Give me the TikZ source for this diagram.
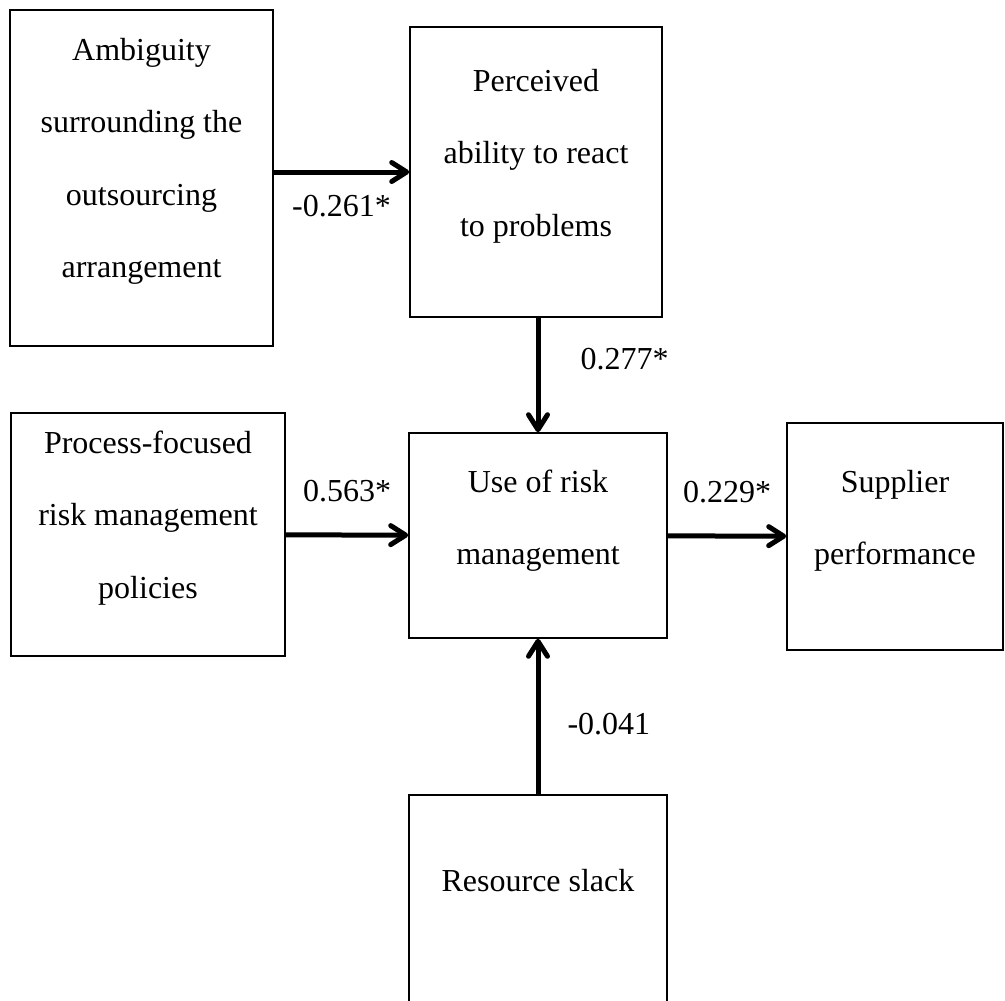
\documentclass[tikz,border=0pt]{standalone}
\usepackage{fontspec}
\setmainfont{Liberation Serif}
\usetikzlibrary{arrows.meta,positioning}

\begin{document}
\begin{tikzpicture}[x=1pt, y=-1pt, font=\fontsize{32}{72.5}\selectfont,
    >={Straight Barb[round,length=15pt,width=19pt]},
    box/.style={draw, line width=1.6pt, inner sep=0pt},
    conn/.style={->, line width=5pt},
    wlab/.style={inner sep=3pt}]
			\useasboundingbox[fill=white] (0,0) rectangle (1005,1001);
			% boxes
			\node[box] (amb) at (141.5,178) {\parbox[c][336pt][t]{263pt}{\centering\rule{0pt}{50pt}Ambiguity\\surrounding the\\outsourcing\\arrangement}};
			\node[box] (per) at (536,172) {\parbox[c][290pt][t]{252pt}{\centering\rule{0pt}{64pt}Perceived\\ability to react\\to problems}};
			\node[box] (proc) at (148,534.5) {\parbox[c][243pt][t]{274pt}{\centering\rule{0pt}{40pt}Process-focused\\risk management\\policies}};
			\node[box] (use) at (538,535.5) {\parbox[c][205pt][t]{258pt}{\centering\rule{0pt}{59pt}Use of risk\\management}};
			\node[box] (sup) at (895,536.5) {\parbox[c][227pt][t]{216pt}{\centering\rule{0pt}{69pt}Supplier\\performance}};
			\node[box] (slack) at (538,940) {\parbox[c][290pt][t]{258pt}{\centering\rule{0pt}{96pt}Resource slack}};
			% paths
			\draw[conn] (amb.east |- per.west) -- node[wlab, below=18pt] {-0.261*} (per.west);
			\draw[conn] (per.south -| use) -- node[wlab, pos=0.365, right=37pt] {0.277*} (use.north);
			\draw[conn] (proc) -- node[wlab, above=28pt] {0.563*} (use);
			\draw[conn] (use) -- node[wlab, above=28pt] {0.229*} (sup);
			\draw[conn] (slack) -- node[wlab, pos=0.45, right=24pt] {-0.041} (use);
		\end{tikzpicture}
\end{document}
